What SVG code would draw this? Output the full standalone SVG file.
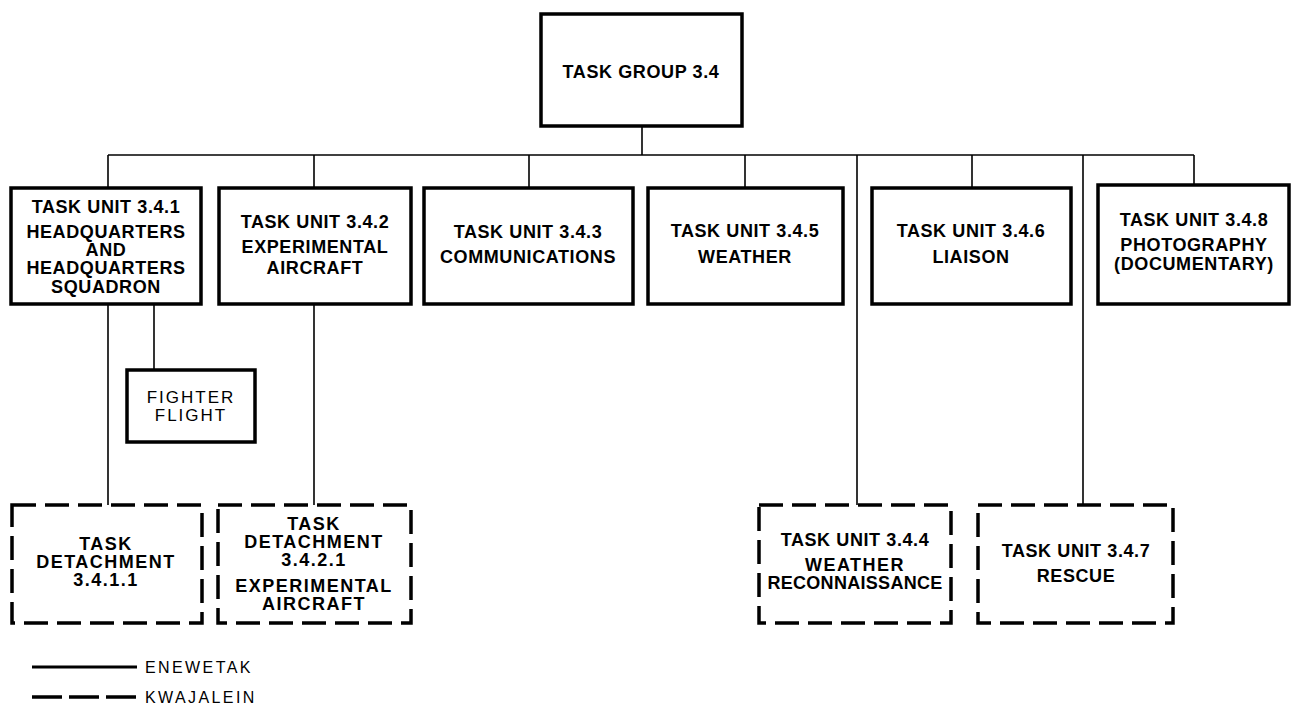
<svg xmlns="http://www.w3.org/2000/svg" width="1293" height="709" viewBox="0 0 1293 709">
<style>
.box{fill:#fff;stroke:#000;stroke-width:3.5}
.dbox{fill:#fff;stroke:#000;stroke-width:3.5;stroke-dasharray:24 9}
.ln{fill:none;stroke:#000;stroke-width:1.6}
text{font-family:"Liberation Sans",Arial,sans-serif;font-size:18px;font-weight:bold;text-anchor:middle;dominant-baseline:central;letter-spacing:0.6px;fill:#000}
.sp{letter-spacing:1.5px}
.lt{font-weight:normal;font-size:17px;letter-spacing:2px}
.lg{font-weight:normal;font-size:16px;letter-spacing:2.4px;text-anchor:start}
</style>
<rect width="1293" height="709" fill="#fff"/>
<g id="connectors">
<line class="ln" x1="642" y1="126" x2="642" y2="155"/>
<line class="ln" x1="108" y1="155" x2="1194" y2="155"/>
<line class="ln" x1="108" y1="155" x2="108" y2="188"/>
<line class="ln" x1="314" y1="155" x2="314" y2="188"/>
<line class="ln" x1="529" y1="155" x2="529" y2="188"/>
<line class="ln" x1="745" y1="155" x2="745" y2="188"/>
<line class="ln" x1="857" y1="155" x2="857" y2="505"/>
<line class="ln" x1="972" y1="155" x2="972" y2="188"/>
<line class="ln" x1="1083" y1="155" x2="1083" y2="505"/>
<line class="ln" x1="1194" y1="155" x2="1194" y2="185"/>
<line class="ln" x1="108" y1="304" x2="108" y2="505"/>
<line class="ln" x1="154" y1="304" x2="154" y2="370"/>
<line class="ln" x1="314" y1="304" x2="314" y2="505"/>
</g>
<g id="tg34">
<rect class="box" x="541" y="14" width="201" height="112"/>
<text x="641" y="72">TASK GROUP 3.4</text>
</g>
<g id="tu341">
<rect class="box" x="11" y="188" width="190" height="116"/>
<text x="106" y="207">TASK UNIT 3.4.1</text>
<text x="106" y="232">HEADQUARTERS</text>
<text x="106" y="250">AND</text>
<text x="106" y="268">HEADQUARTERS</text>
<text x="106" y="287">SQUADRON</text>
</g>
<g id="tu342">
<rect class="box" x="219" y="188" width="192" height="116"/>
<text x="315" y="222">TASK UNIT 3.4.2</text>
<text x="315" y="247">EXPERIMENTAL</text>
<text x="315" y="268">AIRCRAFT</text>
</g>
<g id="tu343">
<rect class="box" x="424" y="188" width="209" height="116"/>
<text x="528" y="232">TASK UNIT 3.4.3</text>
<text x="528" y="257">COMMUNICATIONS</text>
</g>
<g id="tu345">
<rect class="box" x="648" y="188" width="195" height="116"/>
<text x="745" y="231">TASK UNIT 3.4.5</text>
<text x="745" y="257">WEATHER</text>
</g>
<g id="tu346">
<rect class="box" x="872" y="188" width="199" height="116"/>
<text x="971" y="231">TASK UNIT 3.4.6</text>
<text x="971" y="257">LIAISON</text>
</g>
<g id="tu348">
<rect class="box" x="1098" y="185" width="191" height="119"/>
<text x="1194" y="220">TASK UNIT 3.4.8</text>
<text x="1194" y="245">PHOTOGRAPHY</text>
<text x="1194" y="264">(DOCUMENTARY)</text>
</g>
<g id="fighter">
<rect class="box" x="127" y="370" width="128" height="72"/>
<text class="lt" x="191" y="397">FIGHTER</text>
<text class="lt" x="191" y="415">FLIGHT</text>
</g>
<g id="td3411">
<rect class="dbox" x="12" y="505" width="190" height="118"/>
<text class="sp" x="106" y="544">TASK</text>
<text class="sp" x="106" y="562">DETACHMENT</text>
<text class="sp" x="106" y="580">3.4.1.1</text>
</g>
<g id="td3421">
<rect class="dbox" x="218" y="505" width="193" height="118"/>
<text class="sp" x="314" y="524">TASK</text>
<text class="sp" x="314" y="542">DETACHMENT</text>
<text class="sp" x="314" y="560">3.4.2.1</text>
<text class="sp" x="314" y="586">EXPERIMENTAL</text>
<text class="sp" x="314" y="604">AIRCRAFT</text>
</g>
<g id="tu344">
<rect class="dbox" x="759" y="505" width="192" height="118"/>
<text x="855" y="540">TASK UNIT 3.4.4</text>
<text class="sp" x="855" y="565">WEATHER</text>
<text x="855" y="583" style="letter-spacing:0.3px">RECONNAISSANCE</text>
</g>
<g id="tu347">
<rect class="dbox" x="978" y="505" width="195" height="118"/>
<text x="1076" y="551">TASK UNIT 3.4.7</text>
<text x="1076" y="576">RESCUE</text>
</g>
<g id="legend">
<line x1="32" y1="667" x2="137" y2="667" stroke="#000" stroke-width="3"/>
<text class="lg" x="145" y="667">ENEWETAK</text>
<line x1="32" y1="697" x2="137" y2="697" stroke="#000" stroke-width="3.5" stroke-dasharray="30 7"/>
<text class="lg" x="145" y="697">KWAJALEIN</text>
</g>
</svg>
